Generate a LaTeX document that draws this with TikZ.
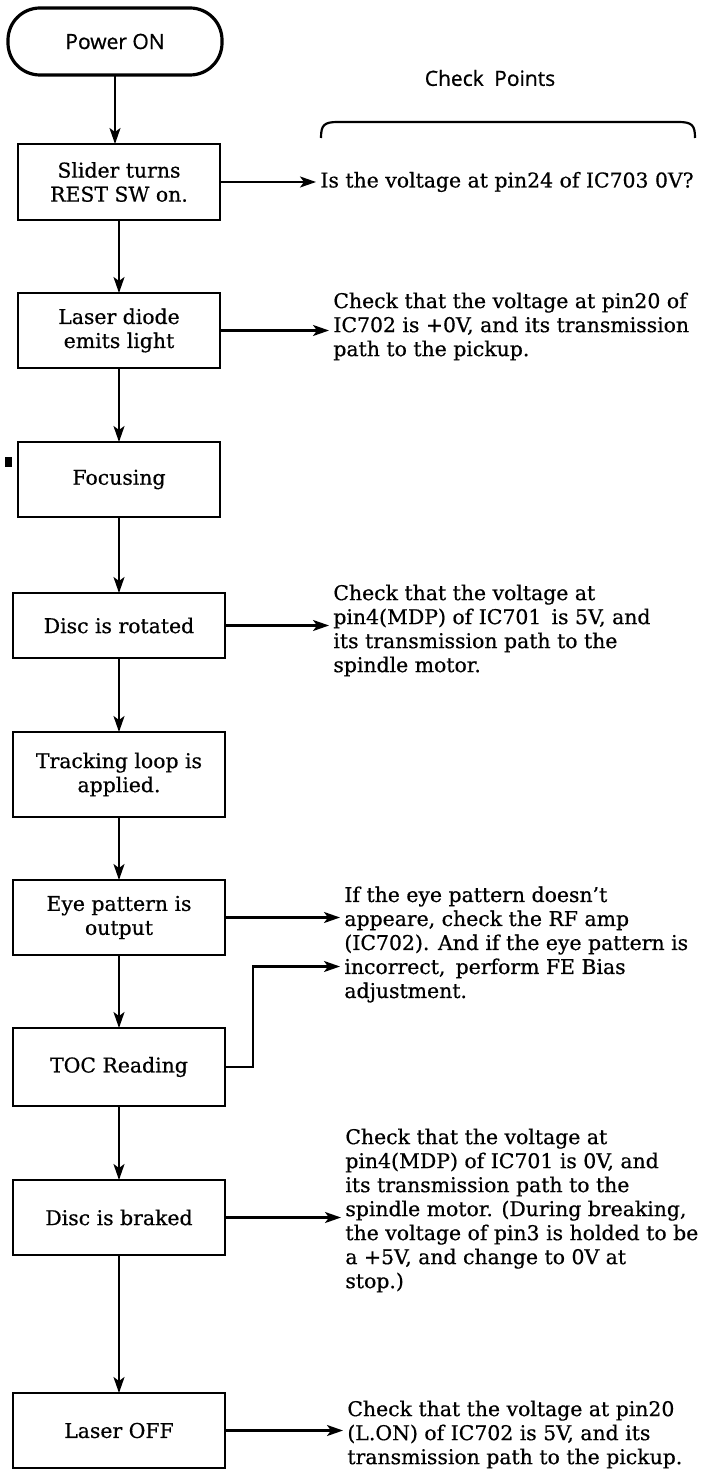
\documentclass[tikz,border=0pt]{standalone}
\usepackage{fontspec}
\setmainfont{DejaVu Serif}[FakeBold=0.6]
\newfontfamily\labelfont{Open Sans}[FakeBold=0.8]
\usepackage{tikz}
\usetikzlibrary{arrows.meta, positioning}

\begin{document}
\begin{tikzpicture}[
    x=0.5pt, y=-0.5pt,
    node distance=37pt,
    state/.style={rectangle, draw, line width=1pt, outer sep=0pt, minimum width=101pt, minimum height=37.5pt, align=center, inner sep=2pt, font=\fontsize{10.2}{12}\selectfont},
    wide/.style={minimum width=106pt},
    startend/.style={rectangle, draw, line width=1.6pt, outer sep=0pt, rounded corners=16pt, minimum width=107pt, minimum height=33.5pt, font=\labelfont\fontsize{10.5}{12}\selectfont},
    check/.style={align=left, inner sep=2pt, font=\fontsize{10.2}{12}\selectfont},
    arrow/.style={-{Stealth[length=8pt, width=5.5pt, inset=2pt]}, line width=1.1pt}
]
    \useasboundingbox (0,0) rectangle (704,1470);

    \node[startend] (power) at (115,41.5) {Power ON};
    \node[state, below=34.5pt of power, xshift=2pt, minimum height=38pt] (slider) {Slider turns\\REST SW on.};
    \node[state, below=36.5pt of slider] (laser) {Laser diode\\emits light};
    \node[state, below=of laser] (focusing) {Focusing};
    \node[state, wide, below=38pt of focusing, minimum height=32.5pt] (rotate) {Disc is rotated};
    \node[state, wide, below=of rotate, minimum height=42.5pt] (tracking) {Tracking loop is\\applied.};
    \node[state, wide, below=31.5pt of tracking] (eyepat) {Eye pattern is\\output};
    \node[state, wide, below=36.5pt of eyepat, minimum height=39pt] (toc) {TOC Reading};
    \node[state, wide, below=of toc] (brake) {Disc is braked};
    \node[state, wide, below=69pt of brake] (laseroff) {Laser OFF};

    \node[font=\labelfont\fontsize{10.5}{12}\selectfont] (points) at (490,78) {Check\enspace Points};
    \draw[line width=1.1pt] (321,138) .. controls (321,125) and (324,122) .. (338,122) -- (678,122) .. controls (692,122) and (695,125) .. (695,138);

    \node[check, right=48pt of slider] (chkslider) {Is the voltage at pin24 of IC703 0V?};
    \node[check, right=54.5pt of laser, yshift=2pt] (chklaser) {Check that the voltage at pin20 of\\IC702 is +0V, and its transmission\\path to the pickup.};
    \node[check, right=52pt of rotate, yshift=-2.5pt] (chkrotate) {Check that the voltage at\\pin4(MDP) of IC701\enspace is 5V, and\\its transmission path to the\\spindle motor.};
    \node[check, right=57.5pt of eyepat, yshift=-13.5pt] (chkeye) {If the eye pattern doesn't\\appeare, check the RF amp\\(IC702). And if the eye pattern is\\incorrect,\enspace perform FE Bias\\adjustment.};
    \node[check, right=58pt of brake, yshift=3.5pt] (chkbrake) {Check that the voltage at\\pin4(MDP) of IC701 is 0V, and\\its transmission path to the\\spindle motor. (During breaking,\\the voltage of pin3 is holded to be\\a +5V, and change to 0V at\\stop.)};
    \node[check, right=59pt of laseroff, yshift=-2pt] (chkoff) {Check that the voltage at pin20\\(L.ON) of IC702 is 5V, and its\\transmission path to the pickup.};

    \draw[arrow] (power) -- (power |- slider.north);
    \draw[arrow] (slider) -- (laser);
    \draw[arrow] (laser) -- (focusing);
    \draw[arrow] (focusing) -- (focusing |- rotate.north);
    \draw[arrow] (rotate) -- (tracking);
    \draw[arrow] (tracking) -- (eyepat);
    \draw[arrow] (eyepat) -- (toc);
    \draw[arrow] (toc) -- (brake);
    \draw[arrow] (brake) -- (laseroff);

    \draw[arrow] (slider.east) -- (slider.east -| chkslider.west);
    \draw[arrow] (laser.east) -- (laser.east -| chklaser.west);
    \draw[arrow] (rotate.east) -- (rotate.east -| chkrotate.west);
    \draw[arrow] (eyepat.east) -- (eyepat.east -| chkeye.west);
    \draw[arrow] (toc.east) -- ++(28,0) |- ([yshift=-11pt]chkeye.west);
    \draw[arrow] (brake.east) -- (brake.east -| chkbrake.west);
    \draw[arrow] (laseroff.east) -- (laseroff.east -| chkoff.west);

    \fill (5,457) rectangle (12,467);
\end{tikzpicture}
\end{document}
